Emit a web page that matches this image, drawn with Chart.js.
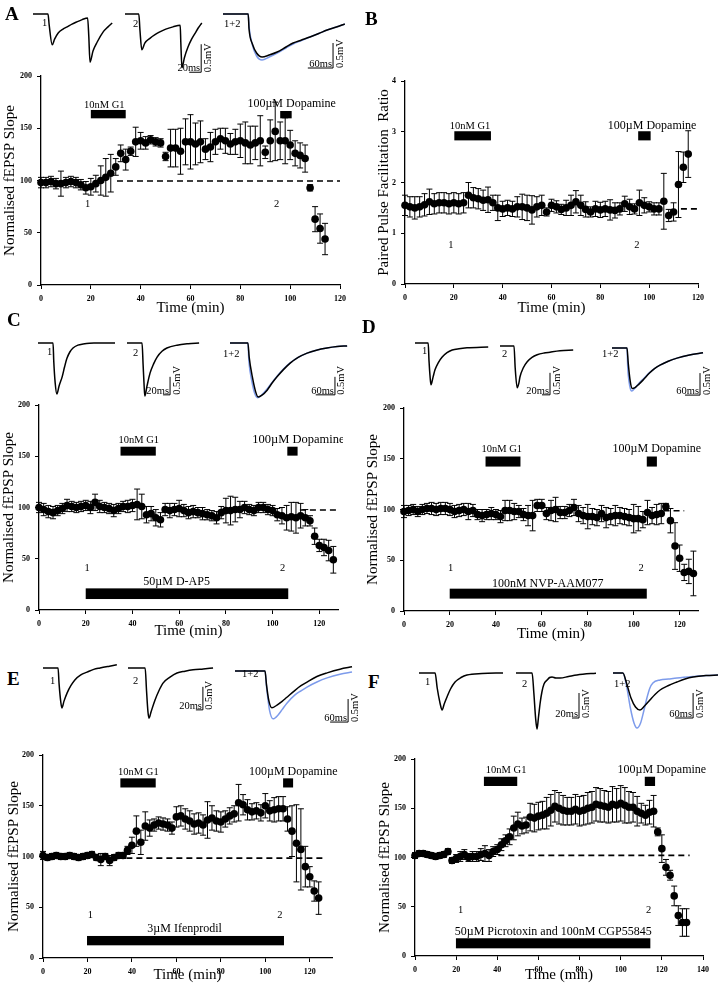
<!DOCTYPE html>
<html>
<head>
<meta charset="utf-8">
<script src="https://cdn.jsdelivr.net/npm/chart.js@4.4.0/dist/chart.umd.min.js"></script>
<style>
body { margin: 0; background: #fff; width: 718px; height: 991px; position: relative; overflow: hidden; font-family: "Liberation Serif", serif; }
.box { position: absolute; }
.letter { position: absolute; font: bold 19px "Liberation Serif", serif; line-height: 1; }
.tl { position: absolute; font: 10.5px "Liberation Serif", serif; line-height: 1; }
</style>
</head>
<body>
<script>
// time points (min), shared by all panels
const mins = [0,2,4,6,8,10,12,14,16,18,20,22,24,26,28,30,32,34,36,38,40,42,44,46,48,50,52,54,56,58,60,62,64,66,68,70,72,74,76,78,80,82,84,86,88,90,92,94,96,98,100,102,104,106,108,110,112,114,116,118,120,122,124,126,128,130,132];
// x tick labels
const timeTicks = [0,20,40,60,80,100,120,140];

// A: fEPSP slope, G1 then dopamine
const aSlope = [98,98,99,97,97,98,99,98,96,93, 94,97,100,103,107,113,126,120,128,137, 138,136,139,137,136,123,131,131,128,137, 137,135,137,130,132,137,140,138,135,137, 138,136,134,136,138,127,138,147,138,138, 134,126,124,121,93,63,54,44];
const aErr = [5,5,5,5,12,5,5,5,5,6, 8,8,14,18,18,8,8,10,4,14, 8,6,4,4,4,4,18,18,22,22, 26,20,20,10,14,12,10,12,10,12, 16,20,18,16,24,6,20,28,18,22, 14,12,12,13,3,12,14,15];

// B: paired pulse ratio
const bPpr = [1.55,1.52,1.5,1.52,1.56,1.62,1.58,1.6,1.6,1.58, 1.6,1.58,1.6,1.75,1.7,1.68,1.65,1.66,1.6,1.5, 1.48,1.5,1.48,1.52,1.52,1.5,1.46,1.52,1.55,1.42, 1.55,1.52,1.47,1.5,1.55,1.62,1.55,1.47,1.42,1.48, 1.46,1.48,1.46,1.45,1.48,1.58,1.52,1.48,1.6,1.55, 1.52,1.48,1.48,1.63,1.35,1.42,1.96,2.3,2.56];
const bErr = [0.2,0.2,0.22,0.2,0.22,0.25,0.2,0.2,0.2,0.2, 0.2,0.2,0.2,0.25,0.2,0.2,0.2,0.25,0.15,0.25, 0.15,0.15,0.15,0.2,0.25,0.25,0.28,0.2,0.2,0.08, 0.12,0.12,0.1,0.15,0.2,0.22,0.2,0.15,0.1,0.15, 0.15,0.15,0.2,0.15,0.12,0.15,0.15,0.1,0.25,0.15, 0.1,0.12,0.12,0.55,0.12,0.18,0.65,0.3,0.46];

// C: D-AP5
const cSlope = [100,98,96,95,97,99,102,101,100,101, 102,100,105,101,100,99,97,99,101,101, 102,103,101,93,94,90,88,98,97,98, 99,97,95,96,95,94,93,92,90,95, 97,97,98,98,100,98,97,100,100,98, 97,93,92,90,91,90,92,90,87,72, 63,61,58,49];
const cErr = [5,6,6,6,5,5,6,5,5,5, 5,6,8,6,5,5,6,5,5,6, 6,15,12,8,7,8,7,6,7,6, 8,6,6,6,5,6,5,5,6,6, 12,14,12,8,6,5,5,5,5,5, 5,6,8,12,14,15,12,8,5,8, 6,8,10,13];

// D: NVP-AAM077
const dSlope = [98,99,100,98,100,101,101,100,101,101, 100,98,99,100,98,99,95,94,95,96, 95,93,99,99,98,98,95,94,94,104, 104,96,99,100,97,97,99,102,96,94, 93,93,92,96,92,93,94,94,93,92, 91,91,90,97,94,95,96,103,89,64, 52,38,39,37];
const dErr = [6,5,5,5,5,5,6,6,6,6, 6,6,6,6,8,6,5,6,5,6, 5,6,10,10,8,6,6,10,15,6, 6,6,10,12,6,6,6,8,8,8, 12,8,8,8,10,8,10,8,8,8, 14,12,8,12,8,10,10,3,12,23, 13,8,12,22];

// E: ifenprodil
const eSlope = [101,99,100,101,100,100,101,100,99,100, 101,102,99,97,100,96,99,101,101,106, 111,125,114,130,128,131,133,132,131,128, 139,140,137,135,132,133,131,136,138,135, 134,137,140,142,153,151,146,144,145,143, 150,145,146,147,147,137,125,113,107,90, 80,66,59];
const eErr = [4,3,3,3,3,3,3,3,3,3, 3,3,3,6,3,5,3,3,3,4, 8,15,12,14,8,6,6,6,6,6, 10,10,10,10,10,10,10,18,12,10, 10,8,8,8,18,10,10,8,8,8, 12,10,12,12,12,12,25,38,40,20, 10,10,16];

// F: picrotoxin + CGP55845
const fSlope = [102,104,104,103,102,101,102,103,106, 97,99,101,103,100,101,101,103,104,102,106,108, 113,117,121,130,134,132,133,141, 140,142,143,145,148,152,150,148,147,147, 149,147,148,150,151,154,153,152,151,154, 153,155,153,151,151,147,145,143,146,147, 126,109,90,82,61,41,34,34];
const fErr = [3,3,3,3,3,3,3,3,3, 3,4,5,5,4,5,5,6,8,6,5,5, 6,6,8,12,12,8,8,14, 14,14,14,16,16,16,16,15,14,14, 15,15,15,16,16,17,17,16,16,18, 17,18,18,16,15,15,10,10,12,16, 4,14,8,5,10,10,14,14];

// example traces: [ms, mV]
const trA1 = [[0,0],[25,0],[27,-0.2],[32,-0.55],[36,-0.45],[42,-0.34],[50,-0.27],[57,-0.23],[65,-0.18],[73,-0.14],[82,-0.1],[91,-0.07],[93,-0.4],[95,-0.86],[100,-0.66],[107,-0.5],[117,-0.32],[125,-0.23],[132,-0.16]];
const trA2 = [[0,0],[23,0],[25,-0.3],[28,-0.64],[33,-0.52],[42,-0.43],[50,-0.37],[58,-0.32],[68,-0.27],[80,-0.23],[92,-0.2],[93,-0.5],[95,-0.96],[99,-0.78],[105,-0.59],[111,-0.45],[117,-0.34],[122,-0.25],[128,-0.16]];
const trA3 = [[0,0],[60,0],[62,-0.3],[70,-0.6],[80,-0.78],[93,-0.86],[110,-0.82],[129,-0.76],[150,-0.66],[167,-0.58],[187,-0.52],[207,-0.46],[228,-0.39],[248,-0.32],[270,-0.26],[290,-0.2]];
const trA3b = [[0,0],[60,0],[62,-0.25],[70,-0.62],[80,-0.84],[93,-0.92],[110,-0.86],[129,-0.78],[150,-0.68],[167,-0.6],[187,-0.53],[207,-0.46],[228,-0.39],[248,-0.32],[270,-0.26],[290,-0.2]];
const trC1 = [[0,0],[43,0],[45,-0.5],[49,-1.1],[54,-1.42],[60,-1.2],[69,-0.94],[76,-0.66],[83,-0.42],[91,-0.25],[100,-0.14],[114,-0.06],[129,-0.03],[160,0],[220,0]];
const trC2 = [[0,0],[43,0],[46,-0.6],[49,-1.2],[51,-1.47],[57,-1.2],[66,-0.83],[76,-0.58],[86,-0.39],[100,-0.23],[114,-0.14],[143,-0.06],[175,-0.02],[206,0]];
const trC3 = [[0,0],[56,0],[60,-0.4],[70,-0.95],[80,-1.35],[88,-1.5],[100,-1.45],[116,-1.31],[131,-1.12],[147,-0.94],[167,-0.74],[188,-0.56],[213,-0.4],[241,-0.28],[270,-0.2],[303,-0.14],[335,-0.1],[366,-0.08]];
const trC3b = [[0,0],[56,0],[59,-0.5],[68,-1.05],[78,-1.42],[86,-1.52],[98,-1.45],[116,-1.28],[131,-1.1],[147,-0.92],[167,-0.72],[188,-0.55],[213,-0.4],[241,-0.28],[270,-0.2],[303,-0.14],[335,-0.1],[366,-0.08]];
const trD1 = [[0,0],[33,0],[35,-0.4],[38,-0.8],[40,-0.95],[45,-0.78],[50,-0.61],[58,-0.45],[68,-0.32],[80,-0.22],[93,-0.16],[110,-0.13],[130,-0.11],[183,-0.09]];
const trD2 = [[0,0],[35,0],[38,-0.5],[43,-0.95],[47,-0.85],[50,-0.7],[58,-0.5],[68,-0.36],[80,-0.26],[93,-0.2],[110,-0.16],[125,-0.14],[150,-0.11],[183,-0.09]];
const trD3 = [[0,0],[60,0],[65,-0.35],[73,-0.76],[81,-0.92],[92,-0.9],[108,-0.82],[124,-0.73],[150,-0.57],[170,-0.47],[192,-0.39],[225,-0.3],[260,-0.23],[310,-0.16],[364,-0.11]];
const trD3b = [[0,0],[60,0],[63,-0.45],[71,-0.86],[79,-0.98],[92,-0.91],[108,-0.8],[124,-0.71],[150,-0.56],[170,-0.47],[192,-0.39],[225,-0.3],[260,-0.23],[310,-0.16],[364,-0.11]];
const trE1 = [[0,0],[43,0],[46,-0.35],[51,-0.75],[54,-0.87],[60,-0.72],[69,-0.54],[80,-0.38],[91,-0.26],[108,-0.15],[126,-0.09],[145,-0.03],[163,0],[190,0.04],[211,0.07]];
const trE2 = [[0,0],[49,0],[53,-0.5],[57,-0.95],[60,-1.09],[66,-0.95],[77,-0.7],[88,-0.5],[100,-0.33],[120,-0.2],[140,-0.11],[163,-0.07],[186,-0.04],[215,-0.02],[243,0]];
const trE3 = [[0,0],[100,0],[105,-0.3],[113,-0.65],[123,-0.8],[140,-0.74],[157,-0.66],[173,-0.57],[200,-0.42],[220,-0.32],[240,-0.24],[273,-0.12],[307,-0.04],[350,0.04],[390,0.09]];
const trE3b = [[0,0],[100,0],[106,-0.4],[115,-0.85],[127,-1.04],[143,-0.96],[157,-0.84],[173,-0.7],[200,-0.52],[220,-0.43],[240,-0.35],[273,-0.24],[307,-0.15],[350,-0.07],[390,-0.02]];
const trF1 = [[0,0],[46,0],[52,-0.3],[60,-0.6],[66,-0.74],[72,-0.62],[80,-0.48],[90,-0.32],[103,-0.18],[120,-0.09],[137,-0.04],[180,-0.01],[240,0]];
const trF2 = [[0,0],[46,0],[51,-0.4],[56,-0.9],[60,-1.12],[64,-0.9],[69,-0.6],[74,-0.38],[80,-0.22],[89,-0.14],[96,-0.09],[103,-0.08],[114,-0.1],[126,-0.1],[150,-0.07],[174,-0.04],[234,0]];
const trF3 = [[0,0],[33,0],[45,-0.2],[60,-0.5],[75,-0.68],[90,-0.74],[105,-0.66],[123,-0.54],[140,-0.43],[157,-0.34],[185,-0.25],[213,-0.18],[240,-0.12],[267,-0.08],[310,-0.05],[350,-0.04]];
const trF3b = [[0,0],[33,0],[45,-0.25],[58,-0.7],[70,-1.0],[80,-1.1],[92,-1.0],[103,-0.75],[113,-0.5],[123,-0.3],[133,-0.2],[157,-0.14],[185,-0.12],[213,-0.1],[267,-0.07],[310,-0.05],[350,-0.04]];

const serif = '"Liberation Serif", "Times New Roman", serif';
const blue = 'rgb(125,155,235)';
const tickFont = {family: serif, size: 8, weight: 'bold'};
const titleFont = {family: serif, size: 15};

const errPlugin = {
    id: 'errbars',
    beforeDatasetsDraw(chart, args, o) {
        if (!o.err) return;
        const ctx = chart.ctx, xs = chart.scales.x, ys = chart.scales.y;
        ctx.save();
        ctx.strokeStyle = '#000';
        ctx.lineWidth = 1;
        chart.data.datasets[0].data.forEach((p, i) => {
            const e = o.err[i];
            const px = xs.getPixelForValue(p.x);
            const hi = ys.getPixelForValue(p.y + e), lo = ys.getPixelForValue(p.y - e);
            ctx.beginPath();
            ctx.moveTo(px, lo); ctx.lineTo(px, hi);
            ctx.moveTo(px - 3, hi); ctx.lineTo(px + 3, hi);
            ctx.moveTo(px - 3, lo); ctx.lineTo(px + 3, lo);
            ctx.stroke();
        });
        ctx.restore();
    }
};

const marksPlugin = {
    id: 'marks',
    beforeDatasetsDraw(chart, args, o) {
        if (!o.dash) return;
        const ctx = chart.ctx, xs = chart.scales.x, ys = chart.scales.y;
        const y = ys.getPixelForValue(o.dash[2]);
        ctx.save();
        ctx.setLineDash([6, 4]);
        ctx.lineWidth = 1.6;
        ctx.strokeStyle = '#000';
        ctx.beginPath();
        ctx.moveTo(xs.getPixelForValue(o.dash[0]), y);
        ctx.lineTo(xs.getPixelForValue(o.dash[1]), y);
        ctx.stroke();
        ctx.restore();
    },
    afterDraw(chart, args, o) {
        const ctx = chart.ctx, xs = chart.scales.x, ys = chart.scales.y;
        ctx.save();
        ctx.fillStyle = '#000';
        (o.bars || []).forEach(b => {
            const x0 = xs.getPixelForValue(b[0]), x1 = xs.getPixelForValue(b[1]);
            const y0 = ys.getPixelForValue(b[3]), y1 = ys.getPixelForValue(b[2]);
            ctx.fillRect(x0, y0, x1 - x0, y1 - y0);
        });
        ctx.textBaseline = 'alphabetic';
        (o.texts || []).forEach(t => {
            ctx.font = t[4] + 'px ' + serif;
            ctx.textAlign = t[3];
            ctx.fillText(t[0], xs.getPixelForValue(t[1]), ys.getPixelForValue(t[2]));
        });
        ctx.font = '10.5px ' + serif;
        ctx.textAlign = 'center';
        ctx.textBaseline = 'middle';
        (o.nums || []).forEach(t => {
            ctx.fillText(t[0], xs.getPixelForValue(t[1]), ys.getPixelForValue(t[2]));
        });
        ctx.restore();
    }
};

// scale bar for the example traces
const barPlugin = {
    id: 'sbar',
    afterDraw(chart, args, o) {
        if (!o.ms) return;
        const ctx = chart.ctx, xs = chart.scales.x, ys = chart.scales.y;
        const X = xs.getPixelForValue(o.t), Y = ys.getPixelForValue(o.v);
        const X0 = xs.getPixelForValue(o.t - o.ms), Y1 = ys.getPixelForValue(o.v + o.mv);
        ctx.save();
        ctx.strokeStyle = '#000';
        ctx.lineWidth = 1;
        ctx.beginPath();
        ctx.moveTo(X0, Y); ctx.lineTo(X, Y); ctx.lineTo(X, Y1);
        ctx.stroke();
        ctx.fillStyle = '#000';
        ctx.font = '10.5px ' + serif;
        ctx.textAlign = 'right';
        ctx.textBaseline = 'alphabetic';
        ctx.fillText(o.ms + 'ms', X - 1, Y - 1);
        ctx.translate(X + 1.5, Y);
        ctx.rotate(-Math.PI / 2);
        ctx.textAlign = 'left';
        ctx.textBaseline = 'top';
        ctx.fillText('0.5mV', 0, 0);
        ctx.restore();
    }
};

function addBox(l, t, w, h) {
    const div = document.createElement('div');
    div.className = 'box';
    div.style.left = l + 'px';
    div.style.top = t + 'px';
    div.style.width = w + 'px';
    div.style.height = h + 'px';
    const cv = document.createElement('canvas');
    div.appendChild(cv);
    document.body.appendChild(div);
    return cv;
}

function makeMain(p) {
    const cv = addBox(p.L, p.T, p.R - p.L, p.B - p.T);
    const axisX = {
        type: 'linear', min: 0, max: p.xMax,
        afterFit(s) { s.height = p.B - p.plotB; },
        afterBuildTicks(s) { s.ticks = timeTicks.filter(v => v <= p.xMax).map(v => ({value: v})); },
        ticks: {font: tickFont, color: '#000', padding: 5, maxRotation: 0, autoSkip: false},
        grid: {display: true, drawOnChartArea: false, drawTicks: true, tickLength: 4, color: '#000'},
        border: {color: '#000', width: 1.3},
        title: {display: true, text: 'Time (min)', font: titleFont, color: '#000', padding: 0}
    };
    const axisY = {
        type: 'linear', min: 0, max: p.yMax,
        afterFit(s) { s.width = p.plotL - p.L; },
        ticks: {stepSize: p.yStep, font: tickFont, color: '#000', padding: 5},
        grid: {display: true, drawOnChartArea: false, drawTicks: true, tickLength: 4, color: '#000'},
        border: {color: '#000', width: 1.3},
        title: {display: true, text: p.yTitle, font: titleFont, color: '#000', padding: 0}
    };
    new Chart(cv, {
        type: 'scatter',
        data: {
            datasets: [{
                data: p.y.map((v, i) => ({x: mins[i], y: v})),
                pointRadius: 3.8,
                pointBackgroundColor: '#000',
                pointBorderColor: '#000',
                pointBorderWidth: 0,
                clip: false
            }]
        },
        options: {
            responsive: true,
            maintainAspectRatio: false,
            animation: false,
            layout: {padding: {top: p.plotT - p.T, right: p.R - p.plotR, left: 0, bottom: 0}},
            plugins: {
                legend: {display: false},
                tooltip: {enabled: false},
                errbars: {err: p.err},
                marks: p.marks
            },
            scales: {x: axisX, y: axisY}
        },
        plugins: [errPlugin, marksPlugin]
    });
}

// first line in the list is drawn on top
function makeTrace(tr) {
    const pad = 5;
    const cv = addBox(tr.left, tr.base - pad, tr.w, tr.h + pad);
    new Chart(cv, {
        type: 'line',
        data: {
            datasets: tr.lines.map(l => ({
                data: l[0].map(p => ({x: p[0], y: p[1]})),
                borderColor: l[1],
                borderWidth: 1.5,
                pointRadius: 0,
                cubicInterpolationMode: 'monotone',
                fill: false
            }))
        },
        options: {
            responsive: true,
            maintainAspectRatio: false,
            animation: false,
            layout: {padding: 0},
            plugins: {legend: {display: false}, tooltip: {enabled: false}, sbar: tr.bar || {}},
            scales: {
                x: {type: 'linear', display: false, min: 0, max: tr.w / tr.pxms},
                y: {type: 'linear', display: false, min: -tr.h / tr.pxmv, max: pad / tr.pxmv}
            }
        },
        plugins: [barPlugin]
    });
}

const slopeTitle = 'Normalised fEPSP Slope';

makeMain({L: 1, R: 352, T: 64, B: 317, plotL: 41, plotR: 340, plotT: 76, plotB: 285,
    xMax: 120, yMax: 200, yStep: 50, yTitle: slopeTitle, y: aSlope, err: aErr,
    marks: {bars: [[20, 34, 159.5, 167.5], [96, 100.6, 159.5, 166.5]],
        texts: [['10nM G1', 25.4, 169, 'center', 10.5], ['100µM Dopamine', 100.6, 170, 'center', 12]],
        nums: [['1', 18.7, 77.5], ['2', 94.6, 77.5]], dash: [30.5, 120, 99.5]}});

makeMain({L: 375, R: 712, T: 69, B: 317, plotL: 405, plotR: 698, plotT: 81, plotB: 284,
    xMax: 120, yMax: 4, yStep: 1, yTitle: 'Paired Pulse Facilitation  Ratio', y: bPpr, err: bErr,
    marks: {bars: [[20.2, 35.2, 2.83, 3.01], [95.5, 100.6, 2.83, 3.01]],
        texts: [['10nM G1', 26.6, 3.06, 'center', 10.5], ['100µM Dopamine', 101.2, 3.06, 'center', 12]],
        nums: [['1', 18.8, 0.77], ['2', 95, 0.77]], dash: [113, 120, 1.48]}});

makeMain({L: 0, R: 343, T: 393, B: 640, plotL: 39, plotR: 338, plotT: 405, plotB: 610,
    xMax: 128, yMax: 200, yStep: 50, yTitle: slopeTitle, y: cSlope, err: cErr,
    marks: {bars: [[34.9, 50, 150.6, 159.3], [106.3, 110.7, 150.6, 159.3], [20, 106.7, 10.7, 21.1]],
        texts: [['10nM G1', 42.7, 162.6, 'center', 10.5], ['100µM Dopamine', 91.3, 162.6, 'left', 12.5], ['50µM D-AP5', 58.9, 24.4, 'center', 12]],
        nums: [['1', 20.6, 40.6], ['2', 104.3, 40.6]], dash: [111.7, 128, 97.6]}});

makeMain({L: 364, R: 714, T: 396, B: 643, plotL: 404, plotR: 698, plotT: 408, plotB: 611,
    xMax: 128, yMax: 200, yStep: 50, yTitle: slopeTitle, y: dSlope, err: dErr,
    marks: {bars: [[35.5, 50.7, 142.3, 152.2], [105.7, 110.1, 142.3, 152.2], [19.9, 105.7, 12.2, 22]],
        texts: [['10nM G1', 42.6, 157, 'center', 10.5], ['100µM Dopamine', 110.1, 157, 'center', 12], ['100nM NVP-AAM077', 62.6, 23.7, 'center', 12]],
        nums: [['1', 20.3, 41.8], ['2', 103.2, 41.8]], dash: [113, 122, 98.8]}});

makeMain({L: 5, R: 352, T: 743, B: 984, plotL: 43, plotR: 332, plotT: 755, plotB: 958,
    xMax: 130, yMax: 200, yStep: 50, yTitle: slopeTitle, y: eSlope, err: eErr,
    marks: {bars: [[34.8, 50.7, 168, 177], [108, 112.5, 168, 177], [19.8, 108.4, 12.5, 21.7]],
        texts: [['10nM G1', 42.9, 180, 'center', 10.5], ['100µM Dopamine', 112.6, 180, 'center', 12], ['3µM Ifenprodil', 63.7, 25.7, 'center', 12]],
        nums: [['1', 21.3, 42], ['2', 106.5, 42]], dash: [37.5, 125.7, 98.4]}});

makeMain({L: 376, R: 714, T: 747, B: 984, plotL: 415, plotR: 703, plotT: 759, plotB: 956,
    xMax: 140, yMax: 200, yStep: 50, yTitle: slopeTitle, y: fSlope, err: fErr,
    marks: {bars: [[33.5, 49.7, 172.6, 182], [111.7, 116.7, 172.6, 182], [19.9, 114.4, 7.8, 18]],
        texts: [['10nM G1', 44.3, 185.4, 'center', 10.5], ['100µM Dopamine', 120, 185.4, 'center', 12], ['50µM Picrotoxin and 100nM CGP55845', 67.2, 21.3, 'center', 12]],
        nums: [['1', 22.2, 46.7], ['2', 113.6, 46.7]], dash: [40.5, 133.5, 102.2]}});

// example traces
makeTrace({left: 33, base: 14, w: 82, h: 62, pxms: 0.6, pxmv: 56, lines: [[trA1, '#000']]});
makeTrace({left: 125, base: 14, w: 90, h: 62, pxms: 0.6, pxmv: 56, lines: [[trA2, '#000']],
    bar: {t: 127, v: -1.04, ms: 20, mv: 0.5}});
makeTrace({left: 223, base: 14, w: 125, h: 62, pxms: 0.42, pxmv: 50, lines: [[trA3, '#000'], [trA3b, blue]],
    bar: {t: 262, v: -1.08, ms: 60, mv: 0.5}});

makeTrace({left: 38, base: 343, w: 80, h: 58, pxms: 0.35, pxmv: 36, lines: [[trC1, '#000']]});
makeTrace({left: 127, base: 343, w: 80, h: 58, pxms: 0.35, pxmv: 36, lines: [[trC2, '#000']],
    bar: {t: 123, v: -1.44, ms: 20, mv: 0.5}});
makeTrace({left: 230, base: 343, w: 122, h: 58, pxms: 0.32, pxmv: 36, lines: [[trC3, '#000'], [trC3b, blue]],
    bar: {t: 328, v: -1.44, ms: 60, mv: 0.5}});

makeTrace({left: 415, base: 343, w: 76, h: 58, pxms: 0.4, pxmv: 44, lines: [[trD1, '#000']]});
makeTrace({left: 500, base: 346, w: 80, h: 58, pxms: 0.4, pxmv: 44, lines: [[trD2, '#000']],
    bar: {t: 125, v: -1.11, ms: 20, mv: 0.5}});
makeTrace({left: 612, base: 348, w: 104, h: 58, pxms: 0.25, pxmv: 44, lines: [[trD3, '#000'], [trD3b, blue]],
    bar: {t: 352, v: -1.07, ms: 60, mv: 0.5}});

makeTrace({left: 43, base: 668, w: 75, h: 60, pxms: 0.35, pxmv: 46, lines: [[trE1, '#000']]});
makeTrace({left: 128, base: 668, w: 90, h: 60, pxms: 0.35, pxmv: 46, lines: [[trE2, '#000']],
    bar: {t: 214, v: -0.91, ms: 20, mv: 0.5}});
makeTrace({left: 235, base: 671, w: 124, h: 60, pxms: 0.3, pxmv: 46, lines: [[trE3, '#000'], [trE3b, blue]],
    bar: {t: 377, v: -1.11, ms: 60, mv: 0.5}});

makeTrace({left: 419, base: 673, w: 86, h: 62, pxms: 0.35, pxmv: 50, lines: [[trF1, '#000']]});
makeTrace({left: 516, base: 673, w: 80, h: 62, pxms: 0.35, pxmv: 50, lines: [[trF2, '#000']],
    bar: {t: 180, v: -0.9, ms: 20, mv: 0.5}});
makeTrace({left: 613, base: 673, w: 105, h: 62, pxms: 0.3, pxmv: 50, lines: [[trF3, '#000'], [trF3b, blue]],
    bar: {t: 267, v: -0.9, ms: 60, mv: 0.5}});

// panel letters and trace labels
const letters = [['A', 5, 7], ['B', 365, 12], ['C', 7, 313], ['D', 362, 320], ['E', 7, 672], ['F', 368, 675]];
letters.forEach(l => {
    const d = document.createElement('div');
    d.className = 'letter';
    d.textContent = l[0];
    d.style.left = l[1] + 'px';
    d.style.top = (l[2] - 3.3) + 'px';
    document.body.appendChild(d);
});
const traceLabels = [['1', 42, 20], ['2', 133, 21], ['1+2', 224, 21], ['1', 47, 349], ['2', 133, 350], ['1+2', 223, 351],
    ['1', 422, 348], ['2', 502, 351], ['1+2', 602, 351], ['1', 50, 678], ['2', 133, 678], ['1+2', 242, 671],
    ['1', 425, 679], ['2', 522, 681], ['1+2', 614, 681]];
traceLabels.forEach(l => {
    const d = document.createElement('div');
    d.className = 'tl';
    d.textContent = l[0];
    d.style.left = l[1] + 'px';
    d.style.top = (l[2] - 2) + 'px';
    document.body.appendChild(d);
});
</script>
</body>
</html>
